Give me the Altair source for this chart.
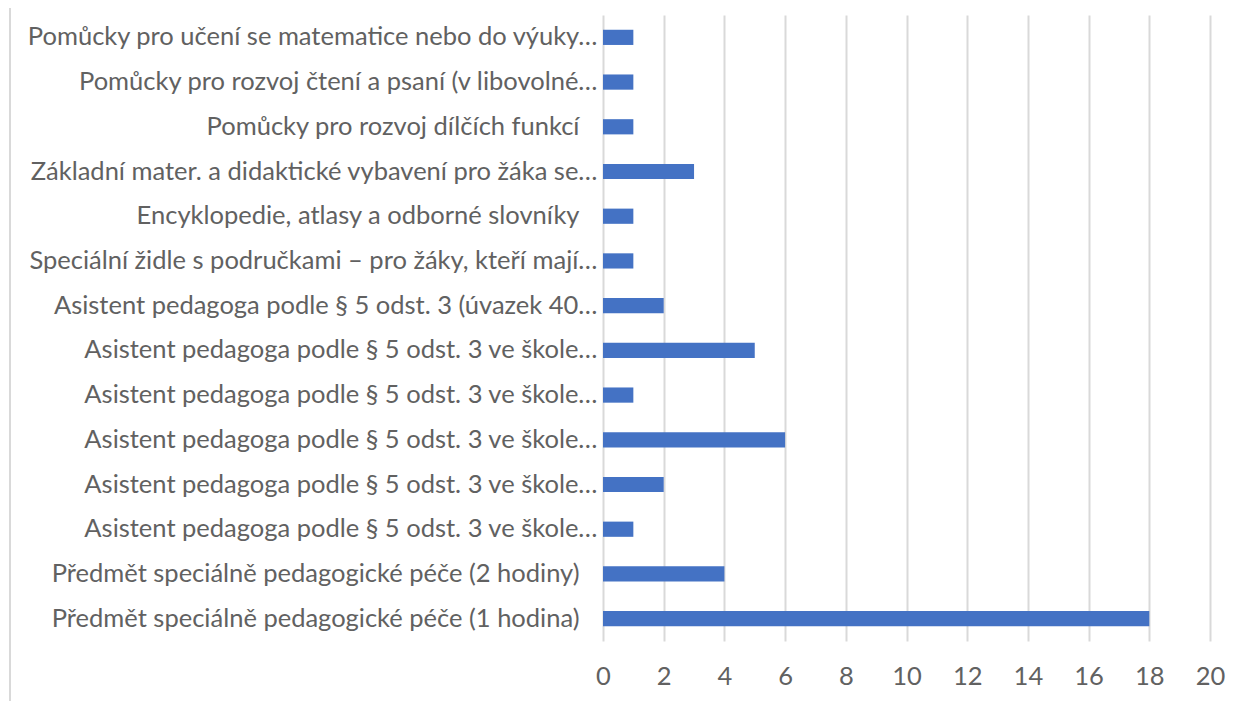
import altair as alt
import pandas as pd

labels = [
    "Pomůcky pro učení se matematice nebo do výuky…",
    "Pomůcky pro rozvoj čtení a psaní (v libovolné…",
    "Pomůcky pro rozvoj dílčích funkcí",
    "Základní mater. a didaktické vybavení pro žáka se…",
    "Encyklopedie, atlasy a odborné slovníky",
    "Speciální židle s područkami – pro žáky, kteří mají…",
    "Asistent pedagoga podle § 5 odst. 3 (úvazek 40…",
    "Asistent pedagoga podle § 5 odst. 3 ve škole…",
    "Asistent pedagoga podle § 5 odst. 3 ve škole…",
    "Asistent pedagoga podle § 5 odst. 3 ve škole…",
    "Asistent pedagoga podle § 5 odst. 3 ve škole…",
    "Asistent pedagoga podle § 5 odst. 3 ve škole…",
    "Předmět speciálně pedagogické péče (2 hodiny)",
    "Předmět speciálně pedagogické péče (1 hodina)",
]
values = [1, 1, 1, 3, 1, 1, 2, 5, 1, 6, 2, 1, 4, 18]
x_ticks = [0, 2, 4, 6, 8, 10, 12, 14, 16, 18, 20]

keys = [f"{i:02d}" for i in range(len(labels))]
df = pd.DataFrame({"key": keys, "label": labels, "value": values})

label_array = "[" + ",".join("'" + s.replace("'", "\\'") + "'" for s in labels) + "]"
label_expr = label_array + "[toNumber(datum.value)]"

FONT = "Lato"
TXT = "#616161"
GRID = "#d9d9d9"
FS = 25.5

bars = alt.Chart(df).mark_bar(color="#4472C4").encode(
    x=alt.X(
        "value:Q",
        scale=alt.Scale(domain=[0, 20], nice=False),
        axis=alt.Axis(
            values=x_ticks, title=None, domain=False, ticks=False,
            grid=True, gridColor=GRID, gridWidth=2, labelFlush=False,
            labelFont=FONT, labelFontSize=FS, labelColor=TXT, labelPadding=23,
        ),
    ),
    y=alt.Y(
        "key:N",
        sort=keys,
        scale=alt.Scale(paddingInner=0.66, paddingOuter=0.33),
        axis=alt.Axis(
            title=None, domain=False, ticks=False, grid=False,
            labelExpr=label_expr, labelFont=FONT, labelFontSize=FS,
            labelColor=TXT, labelLimit=0,
            labelPadding={
                "condition": {
                    "test": "indexof(['02','04','12','13'], datum.value) >= 0",
                    "value": 24,
                },
                "value": 6,
            },
        ),
    ),
)

border = alt.Chart(df).mark_rule(color=GRID, strokeWidth=2).encode(
    x=alt.value(-593), y=alt.value(-16), y2=alt.value(700)
)

chart = alt.layer(border, bars).properties(
    width=607, height=626,
    autosize=alt.AutoSizeParams(type="none"),
    padding={"left": 595, "top": 7, "right": 35, "bottom": 60},
).configure_view(stroke=None)

chart.save("out.html", embed_options={"renderer": "svg", "actions": False})
